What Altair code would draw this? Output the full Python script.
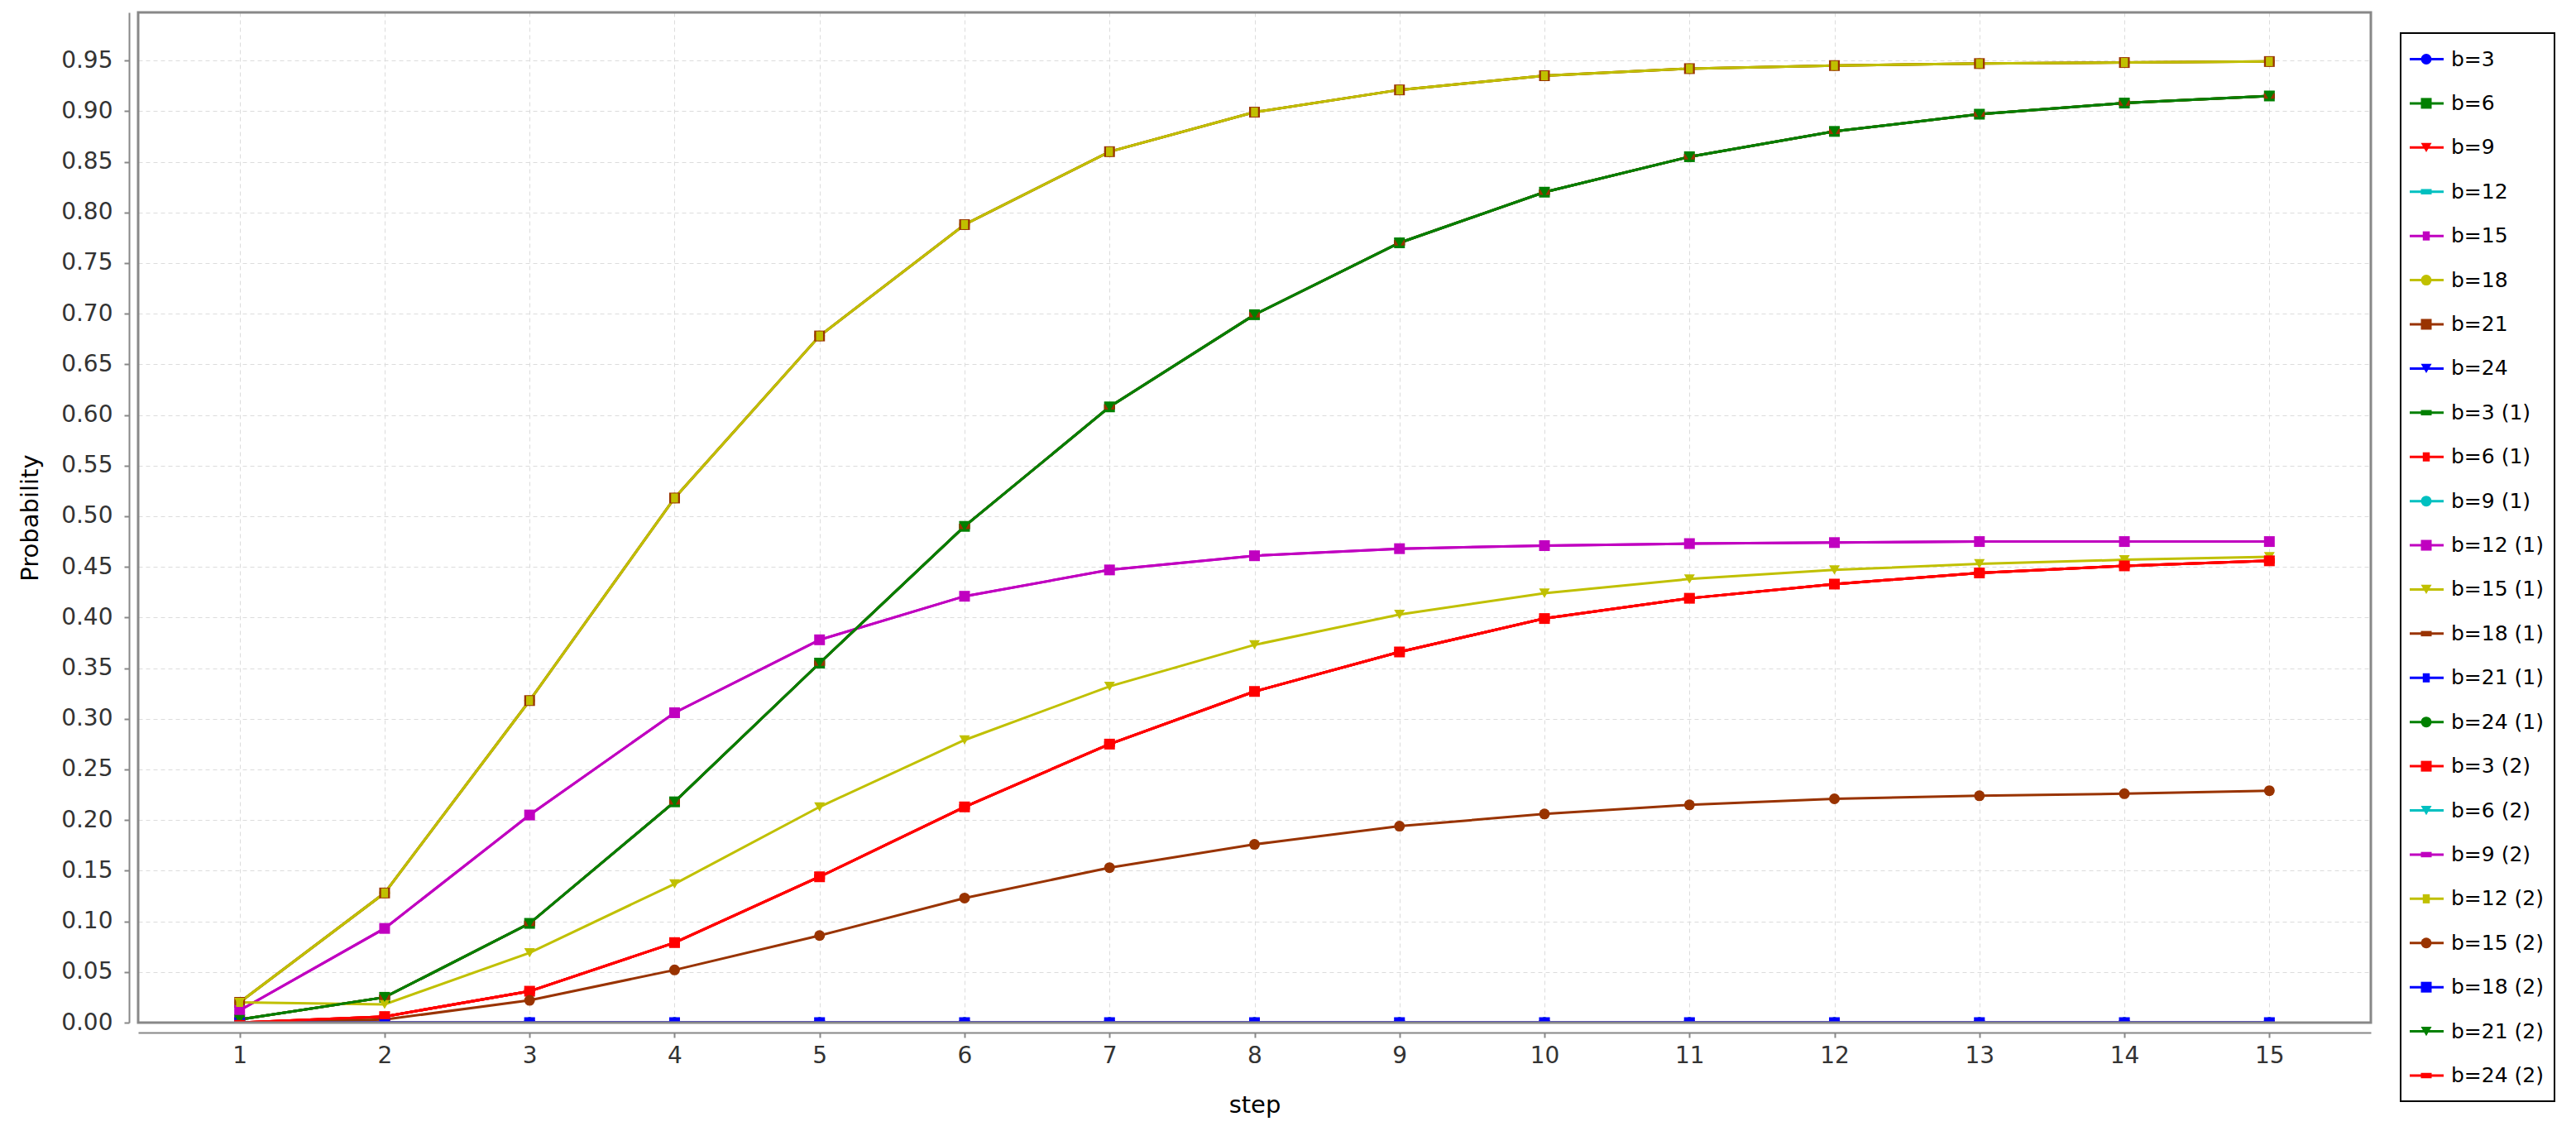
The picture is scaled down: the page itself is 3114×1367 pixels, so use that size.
import altair as alt
import pandas as pd

# ---------------- data ----------------
steps = [1, 2, 3, 4, 5, 6, 7, 8, 9, 10, 11, 12, 13, 14, 15]

curve_top = [0.020, 0.128, 0.318, 0.518, 0.678, 0.788, 0.860, 0.899, 0.921, 0.935, 0.942, 0.945, 0.947, 0.948, 0.949]
curve_second = [0.003, 0.025, 0.098, 0.218, 0.355, 0.490, 0.608, 0.699, 0.770, 0.820, 0.855, 0.880, 0.897, 0.908, 0.915]
curve_magenta = [0.012, 0.093, 0.205, 0.306, 0.378, 0.421, 0.447, 0.461, 0.468, 0.471, 0.473, 0.474, 0.475, 0.475, 0.475]
curve_yellow = [0.020, 0.018, 0.069, 0.137, 0.213, 0.279, 0.332, 0.373, 0.403, 0.424, 0.438, 0.447, 0.453, 0.457, 0.460]
curve_red = [0.000, 0.006, 0.031, 0.079, 0.144, 0.213, 0.275, 0.327, 0.366, 0.399, 0.419, 0.433, 0.444, 0.451, 0.456]
curve_brown = [0.000, 0.003, 0.022, 0.052, 0.086, 0.123, 0.153, 0.176, 0.194, 0.206, 0.215, 0.221, 0.224, 0.226, 0.229]
curve_zero = [0.0, 0.0, 0.0, 0.0, 0.0, 0.0, 0.0, 0.0, 0.0, 0.0, 0.0, 0.0, 0.0, 0.0, 0.0]

curves = {
    "top": curve_top, "second": curve_second, "magenta": curve_magenta,
    "yellow": curve_yellow, "red": curve_red, "brown": curve_brown, "zero": curve_zero,
}

series_names = [
    "b=3", "b=6", "b=9", "b=12", "b=15", "b=18", "b=21", "b=24",
    "b=3 (1)", "b=6 (1)", "b=9 (1)", "b=12 (1)", "b=15 (1)", "b=18 (1)", "b=21 (1)", "b=24 (1)",
    "b=3 (2)", "b=6 (2)", "b=9 (2)", "b=12 (2)", "b=15 (2)", "b=18 (2)", "b=21 (2)", "b=24 (2)",
]
series_curve = [
    "zero", "second", "red", "zero", "magenta", "top", "top", "zero",
    "second", "red", "zero", "magenta", "yellow", "second", "zero", "zero",
    "red", "zero", "zero", "top", "brown", "zero", "second", "red",
]

y_ticks = [0.00, 0.05, 0.10, 0.15, 0.20, 0.25, 0.30, 0.35, 0.40, 0.45,
           0.50, 0.55, 0.60, 0.65, 0.70, 0.75, 0.80, 0.85, 0.90, 0.95]

# ---------------- styles ----------------
color_cycle = ["#0000FF", "#008000", "#FF0000", "#00C0C0", "#C000C0", "#C0C000", "#993300"]
shape_cycle = [
    "circle",
    "square",
    "triangle-down",
    "M-1,-0.5H1V0.5H-1Z",
    "M-0.65,-0.85H0.65V0.85H-0.65Z",
]

rows = []
for i, name in enumerate(series_names):
    vals = curves[series_curve[i]]
    for s, v in zip(steps, vals):
        rows.append({"series": name, "idx": i, "step": s, "prob": v})
df = pd.DataFrame(rows)
legend_df = pd.DataFrame({"series": series_names, "idx": list(range(len(series_names)))})

W, H = 2699, 1221

color_scale = alt.Scale(domain=series_names, range=[color_cycle[i % 7] for i in range(24)])
shape_scale = alt.Scale(domain=series_names, range=[shape_cycle[i % 5] for i in range(24)])

x_enc = alt.X("step:Q", scale=alt.Scale(domain=[0.3, 15.7], nice=False, zero=False),
              axis=alt.Axis(title="step", values=steps, format="d", offset=12, tickSize=6,
                            labelPadding=8, titlePadding=31))
y_enc = alt.Y("prob:Q", scale=alt.Scale(domain=[0, 0.9975], nice=False, zero=False),
              axis=alt.Axis(title="Probability", values=y_ticks, format=".2f", offset=11,
                            tickSize=6, labelPadding=14, titlePadding=22))

lines = alt.Chart(df).mark_line(strokeWidth=3, clip=True).encode(
    x=x_enc, y=y_enc,
    color=alt.Color("series:N", scale=color_scale, legend=None),
    detail="idx:Q",
)
points = alt.Chart(df).mark_point(filled=True, size=169, opacity=1, clip=True).encode(
    x=x_enc, y=y_enc,
    color=alt.Color("series:N", scale=color_scale, legend=None),
    shape=alt.Shape("series:N", scale=shape_scale, legend=None),
)
main = alt.layer(lines, points)

one_row = alt.Data(values=[{"k": 0}])

# plot outline drawn above the data (as in the reference)
frame = alt.Chart(one_row).mark_rect(fill="transparent", stroke="#888888", strokeWidth=3).encode(
    x=alt.value(0), x2=alt.value("width"), y=alt.value(0), y2=alt.value("height"),
)

# legend (built from the series list)
leg_y = alt.Y("series:N", scale=alt.Scale(type="point", domain=series_names, range=[56.5, 1285], padding=0),
              axis=None)
leg_box = alt.Chart(one_row).mark_rect(fill="#FFFFFF", stroke="#000000", strokeWidth=2).encode(
    x=alt.value(2735), x2=alt.value(2921), y=alt.value(25), y2=alt.value(1316),
)
leg_lines = alt.Chart(legend_df).mark_rule(strokeWidth=3).encode(
    x=alt.value(2746), x2=alt.value(2787), y=leg_y,
    color=alt.Color("series:N", scale=color_scale, legend=None),
)
leg_marks = alt.Chart(legend_df).mark_point(filled=True, size=169, opacity=1).encode(
    x=alt.value(2766), y=leg_y,
    color=alt.Color("series:N", scale=color_scale, legend=None),
    shape=alt.Shape("series:N", scale=shape_scale, legend=None),
)
leg_text = alt.Chart(legend_df).mark_text(align="left", baseline="middle", font="DejaVu Sans",
                                          fontSize=25, color="#000000").encode(
    x=alt.value(2796), y=leg_y, text="series:N",
)

chart = alt.layer(main, frame, leg_box, leg_lines, leg_marks, leg_text).resolve_scale(
    y="independent"
).properties(
    width=W, height=H,
    padding={"left": 159, "top": 7, "right": 230, "bottom": 116},
    autosize=alt.AutoSizeParams(type="none"),
).configure_view(
    strokeWidth=0,
).configure_axis(
    domainColor="#888888", domainWidth=2, tickColor="#888888", tickWidth=2,
    gridColor="#dcdcdc", gridWidth=1, gridDash=[5, 4],
    labelFont="DejaVu Sans", labelFontSize=28, labelColor="#333333",
    titleFont="DejaVu Sans", titleFontSize=29, titleFontWeight="normal", titleColor="#000000",
)

chart.save("out.html", embed_options={"renderer": "svg", "actions": False})
